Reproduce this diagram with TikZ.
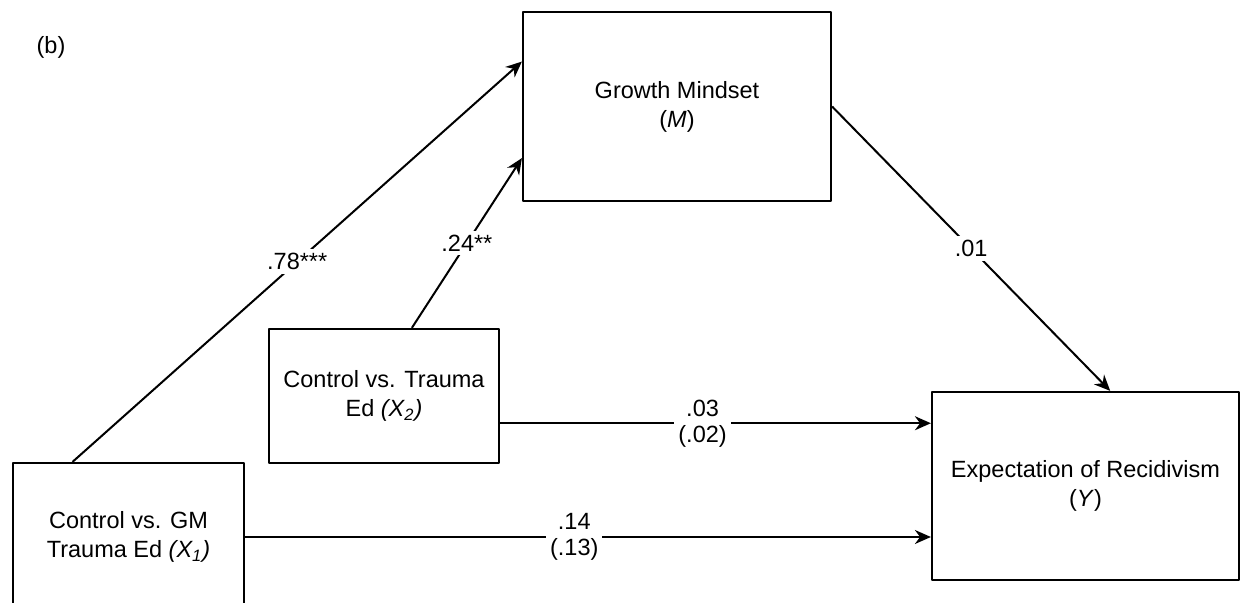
\documentclass[tikz,border=0pt]{standalone}
\usepackage{fontspec}
\setmainfont{Liberation Sans}
\usetikzlibrary{arrows.meta,calc}
\begin{document}
\begin{tikzpicture}[x=0.5pt, y=-0.5pt, >={Stealth[length=8pt,width=7pt]}, line join=round,
	font=\fontsize{11.75}{14.5}\selectfont,
	var/.style={draw, line width=1.1pt, align=center, inner sep=0pt},
	coef/.style={fill=white, align=center, inner sep=2pt, font=\fontsize{11.75}{13}\selectfont},
	path/.style={->, line width=1pt}]
	\useasboundingbox (0,0) rectangle (1243,603);
	\node (lbl) at (51,47) {(b)};
	\node[var, minimum width=154pt, minimum height=94.5pt] (gm) at (677,106.5) {Growth Mindset\\(\textit{M})};
	\node[var, minimum width=115pt, minimum height=67pt] (xtwo) at (384,396) {Control vs. Trauma\\Ed \textit{(X\textsubscript{2})}};
	\node[var, minimum width=115.5pt, minimum height=74pt] (xone) at (128.5,537) {Control vs. GM\\Trauma Ed \textit{(X\textsubscript{1})}};
	\node[var, minimum width=153.5pt, minimum height=94pt] (yvar) at (1085.5,486) {Expectation of Recidivism\\(\textit{Y})};
	\coordinate (xtwoout) at ($(xtwo.north east)!0.7!(xtwo.south east)$);
	\draw[path] ($(xone.north west)!0.26!(xone.north east)$) -- ($(gm.north west)!0.265!(gm.south west)$) node[coef, midway]{.78***};
	\draw[path] ($(xtwo.north west)!0.62!(xtwo.north east)$) -- ($(gm.north west)!0.77!(gm.south west)$) node[coef, midway]{.24**};
	\draw[path] (gm.east) -- ($(yvar.north west)!0.58!(yvar.north east)$) node[coef, midway]{.01};
	\draw[path] (xtwoout) -- (xtwoout -| yvar.west) node[coef, pos=0.47]{.03\\(.02)};
	\draw[path] (xone.east) -- (xone.east -| yvar.west) node[coef, pos=0.48]{.14\\(.13)};
\end{tikzpicture}
\end{document}
